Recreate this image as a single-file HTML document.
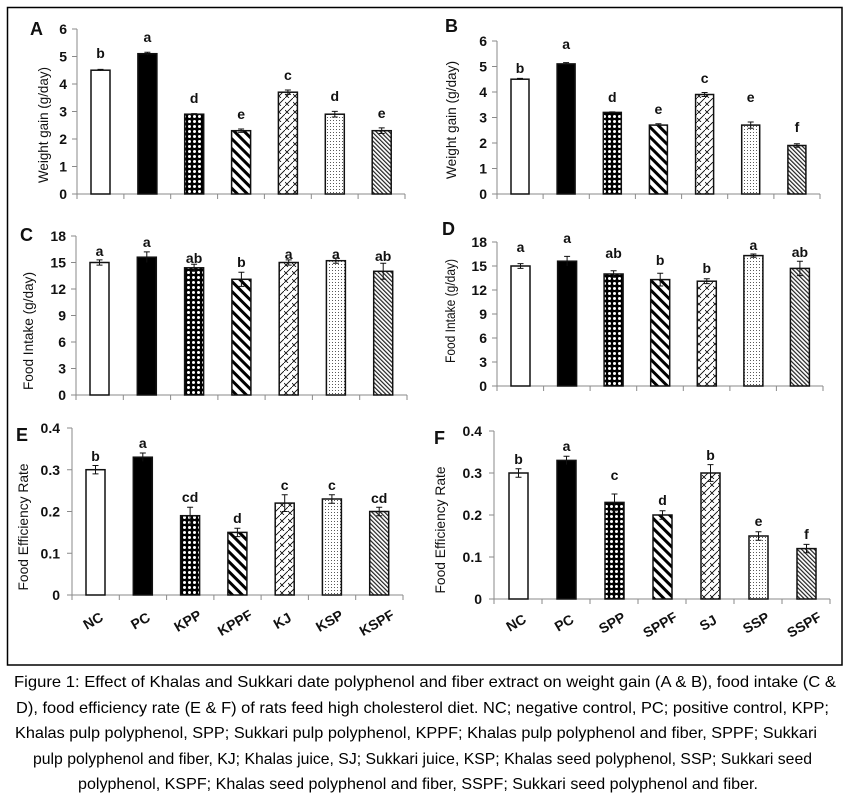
<!DOCTYPE html>
<html><head><meta charset="utf-8"><style>
html,body{margin:0;padding:0;background:#fff;}
svg{display:block;}
text{font-family:"Liberation Sans",sans-serif;}
.t{font-size:14px;font-weight:bold;fill:#111;}
.l{font-size:14px;font-weight:bold;fill:#111;text-anchor:middle;}
.p{font-size:18px;font-weight:bold;fill:#111;}
.ax{stroke:#8a8a8a;stroke-width:1;fill:none;}
.bar{stroke:#111;stroke-width:1.5;}
.e{stroke:#111;stroke-width:1;fill:none;}
.cap{font-size:16px;fill:#000;}
.ti{font-size:14px;fill:#111;text-anchor:middle;}
</style></head><body>
<svg width="850" height="799" viewBox="0 0 850 799" xmlns="http://www.w3.org/2000/svg">
<defs>
<pattern id="kpp" patternUnits="userSpaceOnUse" width="5" height="5"><rect width="5" height="5" fill="#000"/><circle cx="2.5" cy="2.5" r="1.5" fill="#fff"/></pattern>
<pattern id="kppf" patternUnits="userSpaceOnUse" width="7" height="7" patternTransform="rotate(-45)"><rect width="7" height="7" fill="#fff"/><rect width="3" height="7" fill="#000"/></pattern>
<pattern id="kj" patternUnits="userSpaceOnUse" width="8" height="8"><rect width="8" height="8" fill="#fff"/><path d="M0 8L8 0M0 4L4 8" stroke="#000" stroke-width="0.8"/></pattern>
<pattern id="ksp" patternUnits="userSpaceOnUse" width="3" height="3"><rect width="3" height="3" fill="#fff"/><rect x="1" y="1" width="0.9" height="0.9" fill="#333"/></pattern>
<pattern id="kspf" patternUnits="userSpaceOnUse" width="3" height="3" patternTransform="rotate(-45)"><rect width="3" height="3" fill="#fff"/><rect width="1.2" height="3" fill="#222"/></pattern>
</defs>
<rect x="7.5" y="7.5" width="834.5" height="657.5" fill="none" stroke="#000" stroke-width="1.5"/>

<!-- A -->
<text class="p" x="30" y="35">A</text>
<text class="ti" transform="translate(48,125) rotate(-90)" textLength="116" lengthAdjust="spacingAndGlyphs">Weight gain (g/day)</text>
<g transform="translate(77,194)">
<path class="ax" d="M0 0V-165M-5 0H0M-5 -27.5H0M-5 -55H0M-5 -82.5H0M-5 -110H0M-5 -137.5H0M-5 -165H0M0 0H328M0 0v5M46.9 0v5M93.7 0v5M140.6 0v5M187.4 0v5M234.3 0v5M281.1 0v5M328 0v5"/>
<g class="t" text-anchor="end"><text x="-10" y="5">0</text><text x="-10" y="-22.5">1</text><text x="-10" y="-50">2</text><text x="-10" y="-77.5">3</text><text x="-10" y="-105">4</text><text x="-10" y="-132.5">5</text><text x="-10" y="-160">6</text></g>
<rect class="bar" x="14" y="-123.8" width="19" height="123.8" fill="#fff"/>
<rect class="bar" x="60.9" y="-140.3" width="19" height="140.3" fill="#000"/>
<rect class="bar" x="107.7" y="-79.8" width="19" height="79.8" fill="url(#kpp)"/>
<rect class="bar" x="154.6" y="-63.3" width="19" height="63.3" fill="url(#kppf)"/>
<rect class="bar" x="201.4" y="-101.8" width="19" height="101.8" fill="url(#kj)"/>
<rect class="bar" x="248.3" y="-79.8" width="19" height="79.8" fill="url(#ksp)"/>
<rect class="bar" x="295.2" y="-63.3" width="19" height="63.3" fill="url(#kspf)"/>
<path class="e" d="M23.5 -124.6V-123M20.5 -124.6h6M70.4 -141.7V-138.9M67.4 -141.7h6M117.2 -80.4V-79.2M114.2 -80.4h6M164.1 -65V-61.6M161.1 -65h6M161.1 -61.6h6M210.9 -104V-99.6M207.9 -104h6M207.9 -99.6h6M257.8 -82.6V-77M254.8 -82.6h6M254.8 -77h6M304.7 -66.1V-60.5M301.7 -66.1h6M301.7 -60.5h6"/>
<g class="l"><text x="23.5" y="-136">b</text><text x="70.4" y="-152">a</text><text x="117.2" y="-91">d</text><text x="164.1" y="-75">e</text><text x="210.9" y="-114">c</text><text x="257.8" y="-93">d</text><text x="304.7" y="-76">e</text></g>
</g>

<!-- B -->
<text class="p" x="445" y="32">B</text>
<text class="ti" transform="translate(456,120) rotate(-90)" textLength="118" lengthAdjust="spacingAndGlyphs">Weight gain (g/day)</text>
<g transform="translate(497,194)">
<path class="ax" d="M0 0V-153M-5 0H0M-5 -25.5H0M-5 -51H0M-5 -76.5H0M-5 -102H0M-5 -127.5H0M-5 -153H0M0 0H323M0 0v5M46.1 0v5M92.3 0v5M138.4 0v5M184.6 0v5M230.7 0v5M276.9 0v5M323 0v5"/>
<g class="t" text-anchor="end"><text x="-10" y="5">0</text><text x="-10" y="-20.5">1</text><text x="-10" y="-46">2</text><text x="-10" y="-71.5">3</text><text x="-10" y="-97">4</text><text x="-10" y="-122.5">5</text><text x="-10" y="-148">6</text></g>
<rect class="bar" x="14" y="-114.8" width="18" height="114.8" fill="#fff"/>
<rect class="bar" x="60.1" y="-130.1" width="18" height="130.1" fill="#000"/>
<rect class="bar" x="106.3" y="-81.6" width="18" height="81.6" fill="url(#kpp)"/>
<rect class="bar" x="152.4" y="-68.9" width="18" height="68.9" fill="url(#kppf)"/>
<rect class="bar" x="198.6" y="-99.5" width="18" height="99.5" fill="url(#kj)"/>
<rect class="bar" x="244.7" y="-68.9" width="18" height="68.9" fill="url(#ksp)"/>
<rect class="bar" x="290.9" y="-48.5" width="18" height="48.5" fill="url(#kspf)"/>
<path class="e" d="M23 -115.6V-114M20 -115.6h6M69.1 -131.4V-128.8M66.1 -131.4h6M115.3 -82.1V-81.1M112.3 -82.1h6M161.4 -70.2V-67.6M158.4 -70.2h6M207.6 -101.5V-97.5M204.6 -101.5h6M204.6 -97.5h6M253.7 -72V-65.8M250.7 -72h6M250.7 -65.8h6M299.9 -50.3V-46.7M296.9 -50.3h6M296.9 -46.7h6"/>
<g class="l"><text x="23" y="-121">b</text><text x="69.1" y="-145">a</text><text x="115.3" y="-92">d</text><text x="161.4" y="-80">e</text><text x="207.6" y="-111">c</text><text x="253.7" y="-92">e</text><text x="299.9" y="-62">f</text></g>
</g>

<!-- C -->
<text class="p" x="20" y="241">C</text>
<text class="ti" transform="translate(33,331) rotate(-90)" textLength="118" lengthAdjust="spacingAndGlyphs">Food Intake (g/day)</text>
<g transform="translate(76,395)">
<path class="ax" d="M0 0V-159M-5 0H0M-5 -26.5H0M-5 -53H0M-5 -79.5H0M-5 -106H0M-5 -132.5H0M-5 -159H0M0 0H331M0 0v5M47.3 0v5M94.6 0v5M141.9 0v5M189.1 0v5M236.4 0v5M283.7 0v5M331 0v5"/>
<g class="t" text-anchor="end"><text x="-10" y="5">0</text><text x="-10" y="-21.5">3</text><text x="-10" y="-48">6</text><text x="-10" y="-74.5">9</text><text x="-10" y="-101">12</text><text x="-10" y="-127.5">15</text><text x="-10" y="-154">18</text></g>
<rect class="bar" x="14" y="-132.5" width="19" height="132.5" fill="#fff"/>
<rect class="bar" x="61.3" y="-137.8" width="19" height="137.8" fill="#000"/>
<rect class="bar" x="108.6" y="-127.2" width="19" height="127.2" fill="url(#kpp)"/>
<rect class="bar" x="155.9" y="-115.7" width="19" height="115.7" fill="url(#kppf)"/>
<rect class="bar" x="203.2" y="-132.5" width="19" height="132.5" fill="url(#kj)"/>
<rect class="bar" x="250.4" y="-134.3" width="19" height="134.3" fill="url(#ksp)"/>
<rect class="bar" x="297.7" y="-123.7" width="19" height="123.7" fill="url(#kspf)"/>
<path class="e" d="M23.5 -135.1V-129.9M20.5 -135.1h6M20.5 -129.9h6M70.8 -143.1V-132.5M67.8 -143.1h6M118.1 -130.7V-123.7M115.1 -130.7h6M115.1 -123.7h6M165.4 -122.8V-108.6M162.4 -122.8h6M162.4 -108.6h6M212.7 -135.1V-129.9M209.7 -135.1h6M209.7 -129.9h6M259.9 -136.9V-131.7M256.9 -136.9h6M256.9 -131.7h6M307.2 -131.7V-115.7M304.2 -131.7h6M304.2 -115.7h6"/>
<g class="l"><text x="23.5" y="-139">a</text><text x="70.8" y="-148">a</text><text x="118.1" y="-132">ab</text><text x="165.4" y="-128">b</text><text x="212.7" y="-136">a</text><text x="259.9" y="-136">a</text><text x="307.2" y="-134">ab</text></g>
</g>

<!-- D -->
<text class="p" x="442" y="235">D</text>
<text class="ti" transform="translate(455,311) rotate(-90)" textLength="104" lengthAdjust="spacingAndGlyphs">Food Intake (g/day)</text>
<g transform="translate(497,386)">
<path class="ax" d="M0 0V-144M-5 0H0M-5 -24H0M-5 -48H0M-5 -72H0M-5 -96H0M-5 -120H0M-5 -144H0M0 0H326M0 0v5M46.6 0v5M93.1 0v5M139.7 0v5M186.3 0v5M232.9 0v5M279.4 0v5M326 0v5"/>
<g class="t" text-anchor="end"><text x="-10" y="5">0</text><text x="-10" y="-19">3</text><text x="-10" y="-43">6</text><text x="-10" y="-67">9</text><text x="-10" y="-91">12</text><text x="-10" y="-115">15</text><text x="-10" y="-139">18</text></g>
<rect class="bar" x="14" y="-120" width="19" height="120" fill="#fff"/>
<rect class="bar" x="60.6" y="-124.8" width="19" height="124.8" fill="#000"/>
<rect class="bar" x="107.1" y="-112" width="19" height="112" fill="url(#kpp)"/>
<rect class="bar" x="153.7" y="-106.4" width="19" height="106.4" fill="url(#kppf)"/>
<rect class="bar" x="200.3" y="-104.8" width="19" height="104.8" fill="url(#kj)"/>
<rect class="bar" x="246.9" y="-130.4" width="19" height="130.4" fill="url(#ksp)"/>
<rect class="bar" x="293.4" y="-117.6" width="19" height="117.6" fill="url(#kspf)"/>
<path class="e" d="M23.5 -122.4V-117.6M20.5 -122.4h6M20.5 -117.6h6M70.1 -129.6V-120M67.1 -129.6h6M116.6 -115.2V-108.8M113.6 -115.2h6M113.6 -108.8h6M163.2 -112.8V-100M160.2 -112.8h6M160.2 -100h6M209.8 -107.2V-102.4M206.8 -107.2h6M206.8 -102.4h6M256.4 -132V-128.8M253.4 -132h6M253.4 -128.8h6M302.9 -124.8V-110.4M299.9 -124.8h6M299.9 -110.4h6"/>
<g class="l"><text x="23.5" y="-134">a</text><text x="70.1" y="-143">a</text><text x="116.6" y="-128">ab</text><text x="163.2" y="-121">b</text><text x="209.8" y="-113">b</text><text x="256.4" y="-136">a</text><text x="302.9" y="-129">ab</text></g>
</g>

<!-- E -->
<text class="p" x="16" y="441">E</text>
<text class="ti" transform="translate(28,527) rotate(-90)" textLength="127" lengthAdjust="spacingAndGlyphs">Food Efficiency Rate</text>
<g transform="translate(72,595)">
<path class="ax" d="M0 0V-167M-5 0H0M-5 -41.75H0M-5 -83.5H0M-5 -125.25H0M-5 -167H0M0 0H331M0 0v5M47.3 0v5M94.6 0v5M141.9 0v5M189.1 0v5M236.4 0v5M283.7 0v5M331 0v5"/>
<g class="t" text-anchor="end"><text x="-12" y="5">0</text><text x="-12" y="-36.75">0.1</text><text x="-12" y="-78.5">0.2</text><text x="-12" y="-120.25">0.3</text><text x="-12" y="-162">0.4</text></g>
<rect class="bar" x="14" y="-125.3" width="19" height="125.3" fill="#fff"/>
<rect class="bar" x="61.3" y="-137.8" width="19" height="137.8" fill="#000"/>
<rect class="bar" x="108.6" y="-79.3" width="19" height="79.3" fill="url(#kpp)"/>
<rect class="bar" x="155.9" y="-62.6" width="19" height="62.6" fill="url(#kppf)"/>
<rect class="bar" x="203.2" y="-91.9" width="19" height="91.9" fill="url(#kj)"/>
<rect class="bar" x="250.4" y="-96" width="19" height="96" fill="url(#ksp)"/>
<rect class="bar" x="297.7" y="-83.5" width="19" height="83.5" fill="url(#kspf)"/>
<path class="e" d="M23.5 -129.5V-121.1M20.5 -129.5h6M20.5 -121.1h6M70.8 -142V-133.6M67.8 -142h6M118.1 -87.7V-70.9M115.1 -87.7h6M115.1 -70.9h6M165.4 -66.8V-58.4M162.4 -66.8h6M162.4 -58.4h6M212.7 -100.3V-83.5M209.7 -100.3h6M209.7 -83.5h6M259.9 -100.2V-91.8M256.9 -100.2h6M256.9 -91.8h6M307.2 -87.7V-79.3M304.2 -87.7h6M304.2 -79.3h6"/>
<g class="l"><text x="23.5" y="-134">b</text><text x="70.8" y="-147">a</text><text x="118.1" y="-93">cd</text><text x="165.4" y="-72">d</text><text x="212.7" y="-105">c</text><text x="259.9" y="-105">c</text><text x="307.2" y="-92">cd</text></g>
<g class="t" text-anchor="middle">
<text transform="translate(23.5,30) rotate(-30)">NC</text>
<text transform="translate(70.8,30) rotate(-30)">PC</text>
<text transform="translate(118.1,30) rotate(-30)">KPP</text>
<text transform="translate(165.4,32) rotate(-30)">KPPF</text>
<text transform="translate(212.7,30) rotate(-30)">KJ</text>
<text transform="translate(259.9,30) rotate(-30)">KSP</text>
<text transform="translate(307.2,32) rotate(-30)">KSPF</text>
</g>
</g>

<!-- F -->
<text class="p" x="434" y="444">F</text>
<text class="ti" transform="translate(445,530) rotate(-90)" textLength="127" lengthAdjust="spacingAndGlyphs">Food Efficiency Rate</text>
<g transform="translate(494,599)">
<path class="ax" d="M0 0V-168M-5 0H0M-5 -42H0M-5 -84H0M-5 -126H0M-5 -168H0M0 0H336M0 0v5M48 0v5M96 0v5M144 0v5M192 0v5M240 0v5M288 0v5M336 0v5"/>
<g class="t" text-anchor="end"><text x="-12" y="5">0</text><text x="-12" y="-37">0.1</text><text x="-12" y="-79">0.2</text><text x="-12" y="-121">0.3</text><text x="-12" y="-163">0.4</text></g>
<rect class="bar" x="15" y="-126" width="19" height="126" fill="#fff"/>
<rect class="bar" x="63" y="-138.6" width="19" height="138.6" fill="#000"/>
<rect class="bar" x="111" y="-96.6" width="19" height="96.6" fill="url(#kpp)"/>
<rect class="bar" x="159" y="-84" width="19" height="84" fill="url(#kppf)"/>
<rect class="bar" x="207" y="-126" width="19" height="126" fill="url(#kj)"/>
<rect class="bar" x="255" y="-63" width="19" height="63" fill="url(#ksp)"/>
<rect class="bar" x="303" y="-50.4" width="19" height="50.4" fill="url(#kspf)"/>
<path class="e" d="M24.5 -130.2V-121.8M21.5 -130.2h6M21.5 -121.8h6M72.5 -142.8V-134.4M69.5 -142.8h6M120.5 -105V-88.2M117.5 -105h6M117.5 -88.2h6M168.5 -88.2V-79.8M165.5 -88.2h6M165.5 -79.8h6M216.5 -134.4V-117.6M213.5 -134.4h6M213.5 -117.6h6M264.5 -67.2V-58.8M261.5 -67.2h6M261.5 -58.8h6M312.5 -54.6V-46.2M309.5 -54.6h6M309.5 -46.2h6"/>
<g class="l"><text x="24.5" y="-135">b</text><text x="72.5" y="-148">a</text><text x="120.5" y="-119">c</text><text x="168.5" y="-94">d</text><text x="216.5" y="-139">b</text><text x="264.5" y="-73">e</text><text x="312.5" y="-60">f</text></g>
<g class="t" text-anchor="middle">
<text transform="translate(24.5,28) rotate(-30)">NC</text>
<text transform="translate(72.5,28) rotate(-30)">PC</text>
<text transform="translate(120.5,28) rotate(-30)">SPP</text>
<text transform="translate(168.5,30) rotate(-30)">SPPF</text>
<text transform="translate(216.5,28) rotate(-30)">SJ</text>
<text transform="translate(264.5,28) rotate(-30)">SSP</text>
<text transform="translate(312.5,30) rotate(-30)">SSPF</text>
</g>
</g>

<!-- caption -->
<g class="cap">
<text x="14" y="687" textLength="822" lengthAdjust="spacingAndGlyphs">Figure 1: Effect of Khalas and Sukkari date polyphenol and fiber extract on weight gain (A &amp; B), food intake (C &amp;</text>
<text x="16" y="713" textLength="813" lengthAdjust="spacingAndGlyphs">D), food efficiency rate (E &amp; F) of rats feed high cholesterol diet. NC; negative control, PC; positive control, KPP;</text>
<text x="15" y="738" textLength="802" lengthAdjust="spacingAndGlyphs">Khalas pulp polyphenol, SPP; Sukkari pulp polyphenol, KPPF; Khalas pulp polyphenol and fiber, SPPF; Sukkari</text>
<text x="33" y="764" textLength="779" lengthAdjust="spacingAndGlyphs">pulp polyphenol and fiber, KJ; Khalas juice, SJ; Sukkari juice, KSP; Khalas seed polyphenol, SSP; Sukkari seed</text>
<text x="78" y="789" textLength="680" lengthAdjust="spacingAndGlyphs">polyphenol, KSPF; Khalas seed polyphenol and fiber, SSPF; Sukkari seed polyphenol and fiber.</text>
</g>
</svg>
</body></html>
